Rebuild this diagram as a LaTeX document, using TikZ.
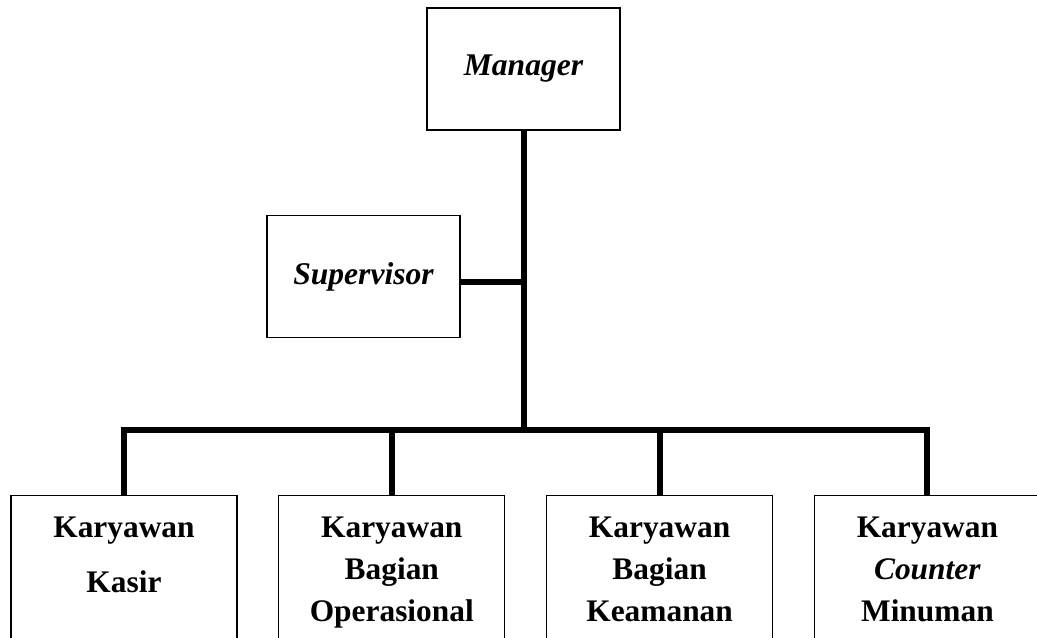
\documentclass[tikz,border=0pt]{standalone}
\usepackage{fontspec}
\setmainfont{Liberation Serif}
\usepackage{tikz}
\usetikzlibrary{positioning}

\begin{document}
\begin{tikzpicture}[x=0.5pt,y=0.5pt,
	font=\fontsize{15.7}{21}\selectfont\bfseries,
	main node/.style={rectangle,draw,line width=0.6pt,minimum width=96.5pt,minimum height=61pt,font=\fontsize{15.8}{21}\selectfont\bfseries\itshape},
	staff node/.style={rectangle,draw,line width=0.6pt,minimum width=113pt,inner xsep=0pt,inner ysep=0pt,
		text height=63pt,text depth=18pt,align=center,anchor=north},
	link/.style={line width=3pt}]
	
	\useasboundingbox (0,0) rectangle (1037,637);
	\clip (0,0) rectangle (1037,637);
	
	\node[main node] (manager) at (523.5,568) {Manager};
	\node[main node] (supervisor) at (363.5,360.5) {Supervisor};
	
	\node[staff node,text height=48.5pt,text depth=32.5pt] (kasir) at (124,142) {Karyawan\\[6.5pt]Kasir};
	\node[staff node] (operasional) [right=20.3pt of kasir] {Karyawan\\Bagian\\Operasional};
	\node[staff node] (keamanan) [right=20.3pt of operasional] {Karyawan\\Bagian\\Keamanan};
	\node[staff node] (minuman) [right=20.3pt of keamanan] {Karyawan\\\textit{Counter}\\Minuman};
	
	\coordinate (bus) at (manager.south |- 0,207);
	
	\draw[link] (manager) -- (bus);
	\draw[link] (supervisor.east |- 0,355) -- (bus |- 0,355);
	\draw[link] (kasir) |- (bus) -| (minuman);
	\draw[link] (operasional) -- (operasional |- bus);
	\draw[link] (keamanan) -- (keamanan |- bus);
\end{tikzpicture}
\end{document}
